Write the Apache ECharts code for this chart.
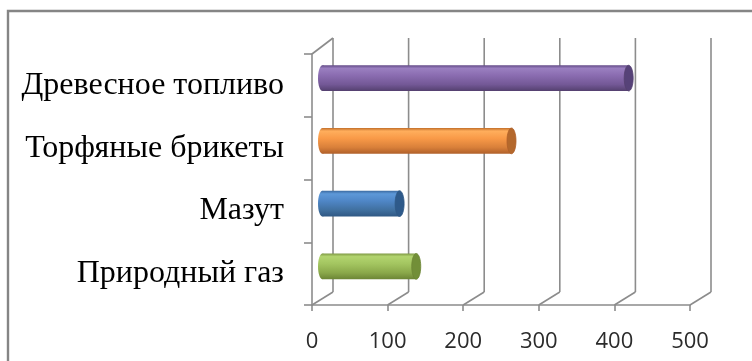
<!DOCTYPE html>
<html>
<head>
<meta charset="utf-8">
<script src="https://cdn.jsdelivr.net/npm/echarts@6/dist/echarts.min.js"></script>
<style>
  html, body { margin: 0; padding: 0; background: #fff; }
  #chart { width: 752px; height: 361px; }
</style>
</head>
<body>
<div id="chart"></div>
<script>
// data, bottom to top
var categories = ['Природный газ', 'Мазут', 'Торфяные брикеты', 'Древесное топливо']
var values = [124, 102, 250, 405]
var axisTicks = [0, 100, 200, 300, 400, 500]

// cylinder shades: top edge, highlight, body, lower, bottom edge, end cap
var palettes = [
  ['#7f9a45', '#b2d46f', '#a3c560', '#8aa84a', '#6c8535', '#728f38'],
  ['#3b6aa0', '#5d98d8', '#4f86c6', '#40709f', '#2f5884', '#2e5a8a'],
  ['#c26e2a', '#ffae5c', '#f99a48', '#d9803a', '#b0602a', '#b4682c'],
  ['#624a86', '#9a7fc0', '#8a6cb0', '#735896', '#54406f', '#564278']
]

var LINE = '#8c8c8c'
var DX = 21, DY_TOP = -16, DY_BOT = -13

var chart = echarts.init(document.getElementById('chart'))

function renderFrame(params, api) {
  var v = api.value(0)
  var cs = params.coordSys
  var x = api.coord([v, 0])[0]
  var top = cs.y
  var bottom = cs.y + cs.height
  var style = { stroke: LINE, lineWidth: 1.6 }
  var children = [
    { type: 'line', shape: { x1: x + DX, y1: top + DY_TOP, x2: x + DX, y2: bottom + DY_BOT }, style: style },
    { type: 'line', shape: { x1: x, y1: bottom, x2: x + DX, y2: bottom + DY_BOT }, style: style }
  ]
  if (params.dataIndex === 0) {
    children.push({ type: 'line', shape: { x1: x, y1: top, x2: x + DX, y2: top + DY_TOP }, style: style })
  }
  return { type: 'group', children: children }
}

function renderBar(params, api) {
  var idx = api.value(1)
  var p0 = api.coord([0, idx])
  var p1 = api.coord([api.value(0), idx])
  var h = api.size([0, 1])[1] * 0.41
  var rx = 4.5
  var cy = p0[1] + (DY_TOP + DY_BOT) / 4
  var xs = p0[0] + DX / 2
  var xe = p1[0] + DX / 2
  var c = palettes[idx]
  var grad = new echarts.graphic.LinearGradient(0, 0, 0, 1, [
    { offset: 0, color: c[0] },
    { offset: 0.12, color: c[1] },
    { offset: 0.4, color: c[2] },
    { offset: 0.75, color: c[3] },
    { offset: 1, color: c[4] }
  ])
  return {
    type: 'group',
    children: [
      { type: 'ellipse', shape: { cx: xs, cy: cy, rx: rx, ry: h / 2 }, style: { fill: grad } },
      { type: 'rect', shape: { x: xs, y: cy - h / 2, width: xe - xs, height: h }, style: { fill: grad } },
      { type: 'ellipse', shape: { cx: xe, cy: cy, rx: rx, ry: h / 2 }, style: { fill: c[5], stroke: c[4], lineWidth: 0.8 } }
    ]
  }
}

chart.setOption({
  animation: false,
  graphic: [{
    type: 'rect',
    shape: { x: 8, y: 11, width: 800, height: 400 },
    style: { fill: 'none', stroke: '#858585', lineWidth: 2.4 }
  }],
  grid: { left: 312, right: 62, top: 54, bottom: 56 },
  xAxis: {
    type: 'value',
    min: 0,
    max: 500,
    interval: 100,
    axisLine: { show: true, lineStyle: { color: LINE, width: 1.6 } },
    axisTick: { show: true, length: 6, lineStyle: { color: LINE, width: 1.6 } },
    splitLine: { show: false },
    axisLabel: { margin: 26, fontFamily: 'Open Sans', fontSize: 22, color: '#2b2b2b' }
  },
  yAxis: {
    type: 'category',
    data: categories,
    axisLine: { show: true, lineStyle: { color: LINE, width: 1.6 } },
    axisTick: { show: true, length: 8, lineStyle: { color: LINE, width: 1.6 } },
    axisLabel: { margin: 28, fontFamily: 'Liberation Serif', fontSize: 32, color: '#000' }
  },
  series: [
    {
      type: 'custom',
      renderItem: renderFrame,
      data: axisTicks.map(function (t) { return [t] }),
      encode: { x: 0 },
      z: 1,
      silent: true
    },
    {
      type: 'custom',
      renderItem: renderBar,
      data: values.map(function (v, i) { return [v, i] }),
      encode: { x: 0, y: 1 },
      z: 3
    }
  ]
})
</script>
</body>
</html>
